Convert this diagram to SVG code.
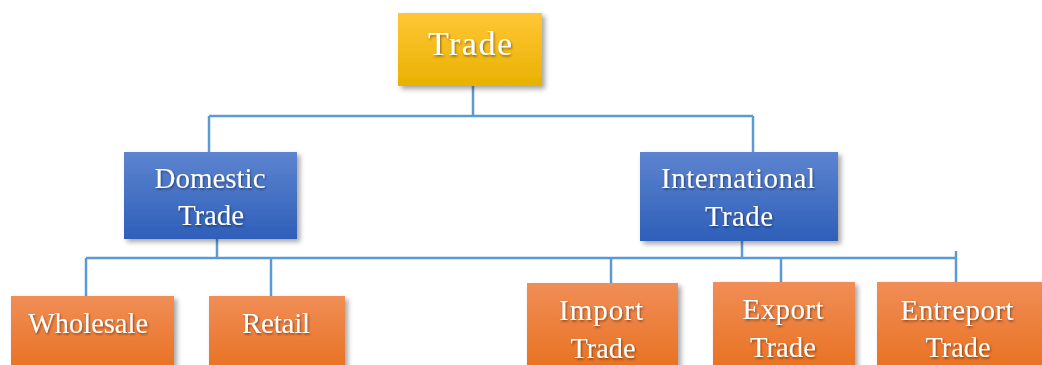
<svg xmlns="http://www.w3.org/2000/svg" width="1042" height="365" viewBox="0 0 1042 365">
<defs>
<linearGradient id="gGold" x1="0" y1="0" x2="0" y2="1"><stop offset="0" stop-color="#FFC736"/><stop offset="1" stop-color="#E9B100"/></linearGradient>
<linearGradient id="gBlue" x1="0" y1="0" x2="0" y2="1"><stop offset="0" stop-color="#5D84CF"/><stop offset="1" stop-color="#2E5FB9"/></linearGradient>
<linearGradient id="gOrange" x1="0" y1="0" x2="0" y2="1"><stop offset="0" stop-color="#F08E57"/><stop offset="1" stop-color="#E86F1D"/></linearGradient>
<filter id="sh" x="-10%" y="-10%" width="130%" height="130%"><feDropShadow dx="3" dy="3" stdDeviation="2.5" flood-color="#000" flood-opacity="0.35"/></filter>
<filter id="tsh" x="-10%" y="-20%" width="130%" height="150%"><feDropShadow dx="1" dy="1.5" stdDeviation="1" flood-color="#000" flood-opacity="0.45"/></filter>
</defs>
<style>
.c{fill:none;stroke:#5B9BD5;stroke-width:2.5}
.t{font-family:"Liberation Serif","Times New Roman",serif;fill:#fff;text-anchor:middle;filter:url(#tsh)}
.m{font-size:29px}
.big{font-size:34px}
</style>
<rect width="1042" height="365" fill="#fff"/>
<g id="connectors">
<path class="c" d="M473 86V116M209 116H753M209 116V152M753 116V152"/>
<path class="c" d="M217 239V258M742 241V258M86 258H957M86 258V296M271 258V296M611 258V283M781 258V282M956 251V282"/>
</g>
<g id="trade"><rect x="398" y="13" width="144" height="73" fill="url(#gGold)" filter="url(#sh)"/><text class="t big" x="470" y="55" textLength="84" lengthAdjust="spacing">Trade</text></g>
<g id="domestic"><rect x="124" y="152" width="173" height="87" fill="url(#gBlue)" filter="url(#sh)"/><text class="t m" x="210" y="188" textLength="111" lengthAdjust="spacing">Domestic</text><text class="t m" x="211" y="225" textLength="66" lengthAdjust="spacing">Trade</text></g>
<g id="international"><rect x="640" y="152" width="198" height="89" fill="url(#gBlue)" filter="url(#sh)"/><text class="t m" x="738" y="188" textLength="154" lengthAdjust="spacing">International</text><text class="t m" x="739" y="226" textLength="68" lengthAdjust="spacing">Trade</text></g>
<g id="wholesale"><rect x="11" y="296" width="163" height="80" fill="url(#gOrange)" filter="url(#sh)"/><text class="t m" x="88" y="333" textLength="120" lengthAdjust="spacingAndGlyphs">Wholesale</text></g>
<g id="retail"><rect x="209" y="296" width="136" height="80" fill="url(#gOrange)" filter="url(#sh)"/><text class="t m" x="276" y="333" textLength="68" lengthAdjust="spacing">Retail</text></g>
<g id="import"><rect x="527" y="283" width="151" height="93" fill="url(#gOrange)" filter="url(#sh)"/><text class="t m" x="601" y="320" textLength="84" lengthAdjust="spacing">Import</text><text class="t m" x="603" y="358" textLength="65" lengthAdjust="spacingAndGlyphs">Trade</text></g>
<g id="export"><rect x="713" y="282" width="142" height="94" fill="url(#gOrange)" filter="url(#sh)"/><text class="t m" x="783" y="319" textLength="81" lengthAdjust="spacing">Export</text><text class="t m" x="783" y="357" textLength="66" lengthAdjust="spacingAndGlyphs">Trade</text></g>
<g id="entreport"><rect x="877" y="282" width="165" height="94" fill="url(#gOrange)" filter="url(#sh)"/><text class="t m" x="957" y="320" textLength="113" lengthAdjust="spacing">Entreport</text><text class="t m" x="958" y="357" textLength="65" lengthAdjust="spacingAndGlyphs">Trade</text></g>
</svg>
